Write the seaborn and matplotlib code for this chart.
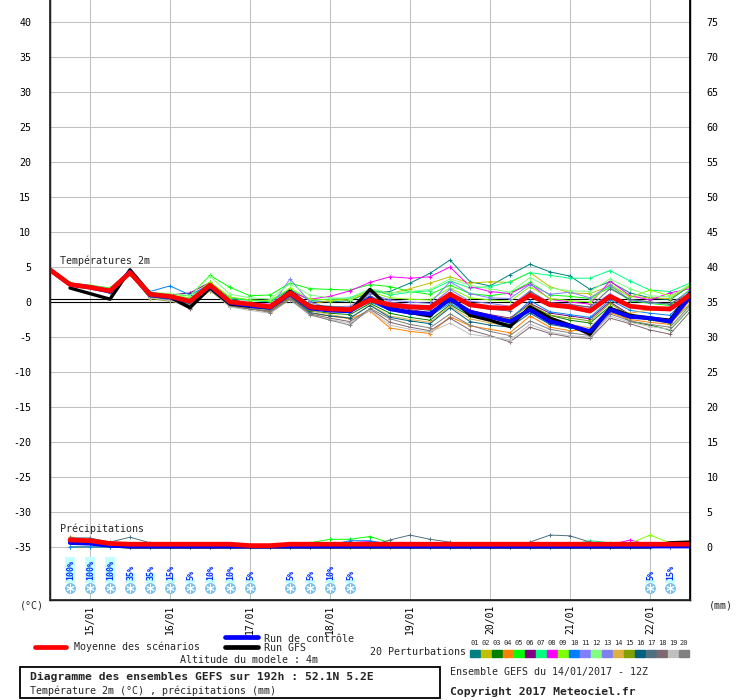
import numpy as np
import pandas as pd
import matplotlib
matplotlib.use('Agg')
import matplotlib.pyplot as plt
from matplotlib.lines import Line2D
from matplotlib.patches import Rectangle
import seaborn as sns
#
# Time axis (hours after 14/01 12Z) and day labels:
hours = [0, 6, 12, 18, 24, 30, 36, 42, 48, 54, 60, 66, 72, 78, 84, 90, 96,
         102, 108, 114, 120, 126, 132, 138, 144, 150, 156, 162, 168, 174, 180, 186, 192]
day_hours = [12, 36, 60, 84, 108, 132, 156, 180]
day_labels = ['15/01', '16/01', '17/01', '18/01', '19/01', '20/01', '21/01', '22/01']
nan = np.nan
#
# Temperature 2m (degC):
t_mean = [4.6, 2.5, 2.1, 1.6, 4.2, 1.1, 0.8, 0.1, 2.4, 0.0, -0.3, -0.7, 1.3, -0.7, -1.0, -1.1, 0.3,
          -0.4, -0.7, -0.8, 1.1, -0.4, -0.8, -0.9, 1.0, -0.4, -0.7, -1.3, 0.8, -0.6, -0.9, -1.0, 1.0]
t_control = [4.6, 2.5, 2.1, 1.5, 4.3, 1.0, 0.7, 0.1, 2.3, -0.1, -0.5, -0.8, 1.2, -0.9, -1.2, -1.3, 0.5,
             -1.0, -1.5, -1.7, 0.4, -1.4, -2.1, -2.8, -1.1, -2.8, -3.4, -4.2, -1.1, -2.1, -2.3, -2.8, 0.8]
t_gfs = [nan, 2.0, 1.2, 0.4, 4.6, 1.2, 0.7, -0.8, 2.0, -0.3, -0.6, -0.8, 1.5, -0.6, -0.9, -1.3, 1.8,
         -0.9, -1.5, -2.0, 0.8, -1.9, -2.6, -3.5, -0.7, -2.3, -3.3, -4.6, -0.9, -1.9, -2.3, -2.6, 1.3]
t_p01 = [4.6, 2.5, 2.3, 1.8, 4.2, 1.2, 0.9, 0.5, 2.6, 0.6, 0.3, 0.0, 1.8, 0.2, 0.0, 0.2, 1.4,
         1.5, 2.7, 4.1, 6.0, 2.9, 2.3, 3.9, 5.4, 4.3, 3.7, 1.8, 2.9, 1.3, 0.6, 0.3, 2.3]
t_p02 = [4.6, 2.6, 2.2, 1.7, 4.0, 0.6, 0.4, 0.0, 2.0, -0.2, -0.5, -0.6, 1.0, -0.3, 0.2, 0.5, 1.6,
         1.2, 1.9, 2.7, 3.6, 2.7, 2.9, 2.8, 4.2, 2.2, 1.3, 1.2, 2.3, 0.8, 0.6, 0.5, 2.4]
t_p03 = [4.6, 2.5, 2.1, 1.5, 4.1, 0.9, 0.6, -0.1, 2.2, -0.3, -0.8, -1.1, 0.8, -1.3, -1.6, -1.8, -0.2,
         -1.6, -2.2, -2.6, -0.4, -2.0, -2.6, -3.2, -0.6, -1.9, -2.6, -3.0, -0.6, -2.8, -3.3, -4.0, -0.9]
t_p04 = [4.6, 2.6, 2.2, 1.6, 4.1, 0.8, 0.5, -0.2, 2.1, -0.5, -1.0, -1.4, 0.6, -1.6, -2.0, -2.4, -1.3,
         -3.7, -4.2, -4.5, -2.1, -3.4, -3.9, -4.4, -2.0, -3.6, -4.1, -4.0, -1.5, -2.5, -2.9, -3.2, 0.2]
t_p05 = [4.7, 2.7, 2.4, 2.0, 4.4, 1.3, 1.1, 0.9, 3.8, 2.1, 0.9, 1.0, 2.7, 1.9, 1.8, 1.7, 2.5,
         2.2, 1.5, 1.1, 2.4, 1.2, 0.9, 1.3, 2.8, 1.0, 0.8, 0.5, 2.1, 0.2, -0.2, -0.5, 1.8]
t_p06 = [4.6, 2.6, 2.2, 1.6, 4.2, 1.0, 1.0, 1.3, 2.8, 0.4, -0.2, -0.7, 1.2, -0.8, -0.9, -1.0, 0.6,
         -0.6, -1.1, -1.5, 0.4, -1.2, -1.8, -2.3, -0.2, -1.6, -2.0, -2.4, 0.0, -1.8, -2.4, -2.8, 0.5]
t_p07 = [4.6, 2.6, 2.3, 1.8, 4.3, 1.2, 0.9, 0.4, 2.6, 0.5, 0.2, 0.1, 1.6, 0.3, 0.4, 0.6, 1.8,
         1.0, 1.4, 1.6, 3.0, 2.0, 2.2, 2.9, 4.2, 3.8, 3.4, 3.4, 4.5, 3.0, 1.7, 1.5, 2.7]
t_p08 = [4.6, 2.6, 2.2, 1.7, 4.2, 1.1, 0.8, 0.3, 2.5, 0.1, -0.2, -0.3, 1.5, 0.4, 0.8, 1.6, 2.8,
         3.6, 3.4, 3.6, 5.0, 2.2, 1.5, 1.2, 2.6, 0.4, 0.0, -0.3, 3.0, 0.9, 0.3, 1.3, 1.9]
t_p09 = [4.6, 2.7, 2.3, 1.8, 4.3, 1.3, 1.0, 0.6, 2.9, 0.7, 0.3, 0.2, 2.0, 0.4, 0.3, 0.3, 1.5,
         0.6, 0.4, 0.3, 2.0, 0.6, 0.3, 0.1, 2.2, 0.5, 0.2, 0.0, 2.6, 0.7, 1.7, 0.9, 2.2]
t_p10 = [4.6, 2.5, 2.1, 1.6, 4.2, 1.5, 2.3, 1.0, 2.5, -0.1, -0.6, -0.9, 1.0, -0.9, -1.3, -1.5, 0.0,
         -1.2, -1.7, -2.0, -0.2, -1.7, -2.3, -2.5, 0.2, -1.4, -1.8, -2.2, 0.3, -1.2, -1.6, -1.9, 1.1]
t_p11 = [4.6, 2.6, 2.2, 1.5, 4.1, 0.9, 0.5, -0.3, 2.2, -0.5, -0.7, -0.9, 3.3, 0.0, -0.9, -1.4, 1.2,
         0.3, 0.0, -0.2, 2.9, 1.2, 0.6, 0.5, 2.5, 1.1, 1.4, 0.6, 2.4, 0.3, -0.1, -0.3, 1.6]
t_p12 = [4.6, 2.7, 2.4, 1.9, 4.4, 1.4, 1.2, 0.9, 3.7, 1.1, 0.6, 0.4, 2.6, 1.0, 0.6, 0.5, 1.9,
         1.3, 1.5, 1.8, 3.3, 2.4, 1.9, 1.4, 3.5, 2.0, 1.6, 1.5, 3.3, 1.9, 0.9, 0.7, 2.5]
t_p13 = [4.6, 2.5, 2.1, 1.5, 4.2, 0.8, 0.3, -0.5, 2.1, -0.7, -0.9, -1.0, 1.4, -0.5, -0.7, -0.6, 1.3,
         0.0, -0.4, -0.5, 1.8, 0.1, -0.2, -0.6, 1.6, -0.1, -0.3, -0.8, 1.2, -0.4, -0.7, -1.0, 1.2]
t_p14 = [4.6, 2.6, 2.2, 1.7, 4.2, 1.0, 0.7, 0.1, 2.3, -0.1, -0.4, -0.6, 0.9, -1.2, -1.8, -2.3, -0.4,
         -2.0, -2.5, -2.9, -0.6, -2.4, -3.0, -3.4, -1.2, -2.7, -3.2, -3.7, -0.8, -1.6, -1.1, -0.8, 0.9]
t_p15 = [4.6, 2.6, 2.1, 1.5, 4.0, 0.5, 0.1, -0.4, 1.6, -0.6, -1.0, -1.3, 0.5, -1.1, -1.3, -1.4, 0.2,
         -1.0, -1.4, -1.8, 0.1, -1.5, -2.0, -2.4, -0.4, -1.9, -2.3, -2.7, -0.2, -2.0, -2.6, -3.0, -0.3]
t_p16 = [4.6, 2.5, 2.0, 1.3, 4.1, 0.7, 0.4, -0.3, 1.9, -0.4, -0.7, -0.9, 0.8, -1.5, -2.0, -2.3, -0.5,
         -2.2, -2.7, -3.1, -0.8, -2.8, -3.3, -3.6, -1.6, -3.2, -3.7, -4.3, -1.1, -2.2, -2.5, -2.8, 0.4]
t_p17 = [4.6, 2.4, 2.0, 1.4, 4.4, 1.0, 0.5, -0.9, 2.1, -0.2, -0.5, -0.7, 1.1, -0.4, -0.6, -0.8, 0.9,
         -0.5, -0.9, -1.2, 1.4, -0.6, -1.0, -1.3, 1.5, -0.2, -0.4, -0.7, 1.9, 0.4, 0.0, -0.3, 1.3]
t_p18 = [4.6, 2.5, 2.1, 1.5, 4.3, 0.9, 0.4, -1.0, 2.0, -0.6, -1.0, -1.3, 0.7, -1.7, -2.3, -2.8, -1.0,
         -2.9, -3.6, -4.1, -2.3, -4.0, -4.8, -5.7, -3.6, -4.5, -5.0, -5.2, -2.3, -3.1, -4.0, -4.6, -1.4]
t_p19 = [4.6, 2.5, 2.0, 1.4, 4.0, 0.6, 0.2, -0.6, 1.7, -0.7, -1.2, -1.6, 0.3, -1.9, -2.5, -3.0, -1.2,
         -3.3, -3.9, -4.3, -3.0, -4.6, -5.0, -5.4, -3.2, -4.3, -4.8, -5.0, -2.0, -2.9, -3.5, -3.9, -0.8]
t_p20 = [4.6, 2.5, 2.1, 1.6, 4.1, 0.8, 0.5, -0.4, 2.0, -0.3, -0.9, -1.5, 0.4, -1.8, -2.6, -3.3, -0.9,
         -2.4, -3.2, -3.7, -1.7, -3.3, -4.2, -4.8, -2.7, -3.9, -4.4, -4.8, -1.7, -2.7, -3.2, -3.6, -0.5]
#
# Precipitation (mm), first step has no accumulation:
rr_mean = [nan, 1.0, 0.9, 0.5, 0.4, 0.4, 0.4, 0.4, 0.4, 0.4, 0.2, 0.2, 0.4, 0.4, 0.4, 0.4, 0.4,
           0.4, 0.4, 0.4, 0.4, 0.4, 0.4, 0.4, 0.4, 0.4, 0.4, 0.4, 0.4, 0.4, 0.4, 0.4, 0.4]
rr_control = [nan, 0.6, 0.5, 0.2, 0.1, 0.1, 0.1, 0.1, 0.1, 0.1, 0.1, 0.1, 0.1, 0.1, 0.1, 0.1, 0.1,
              0.1, 0.1, 0.1, 0.1, 0.1, 0.1, 0.1, 0.1, 0.1, 0.1, 0.1, 0.1, 0.1, 0.1, 0.1, 0.1]
rr_gfs = [nan, 0.8, 0.6, 0.2, 0.0, 0.0, 0.0, 0.0, 0.0, 0.0, 0.0, 0.0, 0.0, 0.0, 0.0, 0.0, 0.0,
          0.0, 0.0, 0.0, 0.0, 0.0, 0.0, 0.0, 0.0, 0.0, 0.0, 0.0, 0.0, 0.0, 0.0, 0.6, 0.7]
rr_p04 = [nan, 1.5, 0.6, 0.0, 0.0, 0.0, 0.0, 0.0, 0.0, 0.0, 0.0, 0.0, 0.0, 0.0, 0.0, 0.0, 0.0,
          0.0, 0.0, 0.0, 0.0, 0.0, 0.0, 0.0, 0.0, 0.0, 0.0, 0.0, 0.0, 0.0, 0.5, 0.3, 0.0]
rr_p05 = [nan, 0.0, 0.0, 0.0, 0.0, 0.0, 0.0, 0.0, 0.0, 0.0, 0.0, 0.0, 0.0, 0.6, 1.1, 1.1, 1.5,
          0.6, 0.0, 0.0, 0.0, 0.0, 0.0, 0.0, 0.0, 0.0, 0.0, 0.0, 0.0, 0.0, 0.0, 0.0, 0.0]
rr_p06 = [nan, 0.0, 0.0, 0.0, 0.0, 0.0, 0.0, 0.0, 0.0, 0.0, 0.0, 0.0, 0.0, 0.0, 0.0, 0.0, 0.0,
          0.0, 0.6, 0.4, 0.0, 0.3, 0.0, 0.0, 0.0, 0.0, 0.0, 0.0, 0.0, 0.0, 0.0, 0.0, 0.0]
rr_p07 = [nan, 0.0, 0.0, 0.0, 0.0, 0.0, 0.0, 0.0, 0.0, 0.0, 0.0, 0.0, 0.0, 0.0, 0.0, 0.0, 0.0,
          0.0, 0.0, 0.0, 0.0, 0.0, 0.0, 0.0, 0.0, 0.0, 0.3, 0.9, 0.6, 0.0, 0.0, 0.0, 0.0]
rr_p08 = [nan, 0.0, 0.0, 0.0, 0.0, 0.0, 0.0, 0.0, 0.0, 0.0, 0.0, 0.0, 0.0, 0.0, 0.0, 0.6, 0.8,
          0.0, 0.0, 0.0, 0.0, 0.0, 0.0, 0.0, 0.0, 0.0, 0.0, 0.0, 0.3, 1.0, 0.3, 0.0, 0.0]
rr_p09 = [nan, 0.0, 0.0, 0.0, 0.0, 0.0, 0.0, 0.0, 0.0, 0.0, 0.0, 0.0, 0.0, 0.0, 0.0, 0.0, 0.0,
          0.0, 0.0, 0.0, 0.0, 0.0, 0.0, 0.0, 0.0, 0.0, 0.0, 0.0, 0.0, 0.5, 1.7, 0.6, 0.0]
rr_p10 = [nan, 0.0, 0.0, 0.0, 0.0, 0.0, 0.0, 0.0, 0.0, 0.0, 0.0, 0.0, 0.0, 0.0, 0.3, 0.9, 0.9,
          0.4, 0.0, 0.0, 0.0, 0.0, 0.0, 0.0, 0.0, 0.0, 0.0, 0.0, 0.0, 0.0, 0.0, 0.0, 0.0]
rr_p17 = [nan, 1.3, 1.3, 0.7, 1.4, 0.6, 0.1, 0.0, 0.0, 0.0, 0.0, 0.0, 0.0, 0.0, 0.0, 0.1, 0.2,
          1.0, 1.7, 1.1, 0.7, 0.1, 0.0, 0.0, 0.7, 1.7, 1.6, 0.7, 0.0, 0.0, 0.0, 0.0, 0.0]
#
# Snow probability:
snow_hours = [6, 12, 18, 24, 30, 36, 42, 48, 54, 60, 72, 78, 84, 90, 180, 186]
snow_pct = [100, 100, 100, 35, 35, 15, 5, 10, 10, 5, 5, 5, 10, 5, 5, 15]
#
# Perturbation colours (01..20):
pert_colors = ['#008080', '#c0c000', '#008000', '#ff8000', '#00ff00', '#800080', '#00ff80',
               '#ff00ff', '#80ff00', '#0080ff', '#8080ff', '#80ff80', '#7f7ff0', '#e0b040',
               '#80a000', '#006080', '#507080', '#806870', '#c0c0c0', '#808080']
pert_temps = [t_p01, t_p02, t_p03, t_p04, t_p05, t_p06, t_p07, t_p08, t_p09, t_p10,
              t_p11, t_p12, t_p13, t_p14, t_p15, t_p16, t_p17, t_p18, t_p19, t_p20]
pert_rain = {4: rr_p04, 5: rr_p05, 6: rr_p06, 7: rr_p07, 8: rr_p08, 9: rr_p09, 10: rr_p10, 17: rr_p17}
#
# Precipitation is drawn on the temperature axis, 0 mm at -35:
RR0 = -35
#
sns.set_theme(style='white')
plt.rcParams['font.family'] = ['DejaVu Sans Mono', 'DejaVu Sans']
fs = 7.2
#
fig = plt.figure(figsize=(7.4, 7.0), dpi=100)
ax = fig.add_axes([50 / 740, 100 / 700, 640 / 740, 600 / 700])
ylo, yhi = (302 - 600) / 7, 302 / 7
#
# Ensemble members:
for k, temps in enumerate(pert_temps):
    c = pert_colors[k]
    sns.lineplot(x=hours, y=temps, color=c, lw=0.7, marker='+', markersize=3,
                 markeredgecolor=c, markeredgewidth=0.7, ax=ax, zorder=3)
    if k + 1 in pert_rain:
        rr = np.array(pert_rain[k + 1]) + RR0
        sns.lineplot(x=hours, y=rr, color=c, lw=0.7, marker='+', markersize=3,
                     markeredgecolor=c, markeredgewidth=0.7, ax=ax, zorder=3)
#
# GFS, control, mean:
for t, rr, c, w, z in [(t_gfs, rr_gfs, 'black', 2.4, 4),
                       (t_control, rr_control, '#0000ff', 3.0, 5),
                       (t_mean, rr_mean, '#ff0000', 3.4, 6)]:
    sns.lineplot(x=hours, y=t, color=c, lw=w, ax=ax, zorder=z)
    sns.lineplot(x=hours, y=np.array(rr) + RR0, color=c, lw=w, ax=ax, zorder=z)
#
# 0 degC reference lines:
ax.axhline(0, color='black', lw=0.8, zorder=2)
ax.axhline(0.45, color='black', lw=0.8, zorder=2)
#
# Snow bars, percentages and icons:
bar_h = [p / 100 * 3.5 + 0.3 for p in snow_pct]
ax.bar(snow_hours, bar_h, bottom=-40.2, width=2.9, color='#c4ffff', lw=0, zorder=3.5)
for h, p in zip(snow_hours, snow_pct):
    ax.text(h + 0.2, -39.75, f'{p}%', rotation=90, ha='center', va='bottom',
            fontsize=6.0, fontweight='bold', color='#0030ff', zorder=6)
ax.scatter(snow_hours, [-40.9] * len(snow_hours), s=62, color='#7cc2ec', lw=0, zorder=4)
ax.scatter(snow_hours, [-40.9] * len(snow_hours), s=30, marker=(6, 2, 0), color='white',
           lw=0.7, zorder=5)
#
# Axes, grid and labels:
ax.set_xlim(0, 192)
ax.set_ylim(ylo, yhi)
yt = list(range(-35, 41, 5))
ax.set_yticks(yt)
ax.set_yticklabels([str(v) for v in yt])
ax.set_xticks(day_hours)
ax.set_xticklabels(day_labels)
ax.grid(True, color='#c0c0c0', lw=0.75)
ax.set_axisbelow(True)
ax.tick_params(axis='y', length=0, pad=13.5, labelsize=fs, labelcolor='black')
ax.tick_params(axis='x', length=4, width=0.75, color='#c0c0c0', pad=-1, labelsize=7.0,
               labelrotation=90, labelcolor='black')
ax.set_xlabel('')
ax.set_ylabel('')
for s in ['left', 'right', 'bottom']:
    ax.spines[s].set_color('black')
    ax.spines[s].set_linewidth(1.0)
ax.spines['top'].set_visible(False)
#
ax2 = ax.twinx()
ax2.set_ylim(ylo, yhi)
ax2.set_yticks(yt)
ax2.set_yticklabels([str(v + 35) if v + 35 >= 0 else '' for v in yt])
ax2.tick_params(axis='y', length=0, pad=12, labelsize=fs, labelcolor='black')
ax2.spines['top'].set_visible(False)
ax2.spines['right'].set_color('black')
ax2.grid(False)
#
ax.text(3, 5.9, 'Températures 2m', fontsize=fs, va='center', ha='left', zorder=7)
ax.text(3, -32.4, 'Précipitations', fontsize=fs, va='center', ha='left', zorder=7)
#
# Legend and captions below the chart (pixel positions):
def fx(x):
    return x / 740
def fy(y):
    return 1 - y / 700
#
fig.text(fx(20), fy(606), '(°C)', fontsize=fs, va='center')
fig.text(fx(709), fy(606), '(mm)', fontsize=fs, va='center')
fig.add_artist(Line2D([fx(35), fx(66)], [fy(647), fy(647)], color='#ff0000', lw=3.4))
fig.text(fx(74), fy(647), 'Moyenne des scénarios', fontsize=fs, va='center')
fig.add_artist(Line2D([fx(225), fx(258)], [fy(637), fy(637)], color='#0000ff', lw=3.4))
fig.text(fx(264), fy(639), 'Run de contrôle', fontsize=fs, va='center')
fig.add_artist(Line2D([fx(225), fx(258)], [fy(647), fy(647)], color='black', lw=3.4))
fig.text(fx(264), fy(648), 'Run GFS', fontsize=fs, va='center')
fig.text(fx(180), fy(660), 'Altitude du modele : 4m', fontsize=fs, va='center')
fig.text(fx(370), fy(652), '20 Perturbations', fontsize=fs, va='center')
for k, c in enumerate(pert_colors):
    fig.patches.append(Rectangle((fx(470 + 11 * k), fy(657)), 10 / 740, 7 / 700,
                                 transform=fig.transFigure, color=c, figure=fig))
    fig.text(fx(475 + 11 * k), fy(643), f'{k + 1:02d}', fontsize=5, ha='center', va='center')
fig.patches.append(Rectangle((fx(20), fy(698)), 420 / 740, 31 / 700, transform=fig.transFigure,
                             fill=False, ec='black', lw=1.3, figure=fig))
fig.text(fx(30), fy(677), 'Diagramme des ensembles GEFS sur 192h : 52.1N 5.2E', fontsize=8.2,
         fontweight='bold', va='center')
fig.text(fx(30), fy(691), 'Température 2m (°C) , précipitations (mm)', fontsize=fs, va='center')
fig.text(fx(450), fy(672), 'Ensemble GEFS du 14/01/2017 - 12Z', fontsize=fs, va='center')
fig.text(fx(450), fy(692), 'Copyright 2017 Meteociel.fr', fontsize=8.2, fontweight='bold',
         va='center')
#
fig.savefig('out.png', dpi=100)
